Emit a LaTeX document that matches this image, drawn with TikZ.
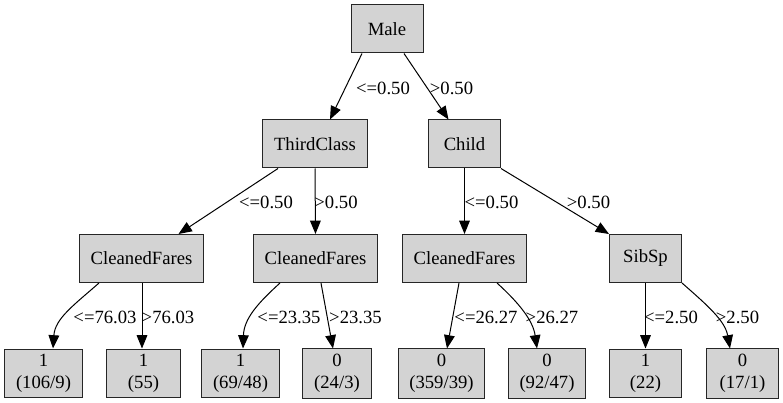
\documentclass[tikz,border=0pt]{standalone}
\usepackage{fontspec}
\setmainfont{Liberation Serif}
\usepackage{xcolor}
\usetikzlibrary{arrows.meta,calc}
\definecolor{boxgray}{HTML}{D3D3D3}

\begin{document}
\begin{tikzpicture}[x=0.75pt, y=-0.75pt,
    box/.style={rectangle, draw=black!85, line width=0.75pt, fill=boxgray,
        minimum width=54pt, minimum height=36pt, inner xsep=8.4pt, inner ysep=4pt,
        align=center, font=\fontsize{14}{16.5}\selectfont},
    cond/.style={inner sep=0pt, font=\fontsize{14}{16.5}\selectfont},
    edge/.style={-{Triangle[length=10pt,width=8pt]}, line width=0.75pt}]
    \useasboundingbox (0,0) rectangle (783,403);

    % tests
    \node[box] (male) at (387, 29) {Male};
    \node[box] (third) at (315, 144) {ThirdClass};
    \node[box] (child) at (464.5, 144) {Child};
    \node[box] (fares1) at (141.5, 258.5) {CleanedFares};
    \node[box] (fares2) at (315.5, 258.5) {CleanedFares};
    \node[box] (fares3) at (464.5, 258.5) {CleanedFares};
    \node[box] (sibsp) at (645.5, 258.5) {SibSp};

    % leaves
    \node[box] (leaf1) at (43.5, 373.5) {1\\(106/9)};
    \node[box, minimum width=56pt] (leaf2) at (143.5, 373.5) {1\\(55)};
    \node[box] (leaf3) at (240.5, 373.5) {1\\(69/48)};
    \node[box, minimum width=51pt] (leaf4) at (337, 373.5) {0\\(24/3)};
    \node[box] (leaf5) at (441.5, 373.5) {0\\(359/39)};
    \node[box] (leaf6) at (547, 373.5) {0\\(92/47)};
    \node[box] (leaf7) at (645.5, 373.5) {1\\(22)};
    \node[box] (leaf8) at (742.5, 373.5) {0\\(17/1)};

    \draw[edge] ($(male.south)+(-25,0)$) -- ($(third.north)+(15,0)$);
    \draw[edge] ($(male.south)+(17,0)$) -- ($(child.north)+(-16,0)$);
    \draw[edge] ($(third.south)+(-37,0)$) -- ($(fares1.north)+(37,0)$);
    \draw[edge] (third.south) -- (fares2.north);
    \draw[edge] (child.south) -- (fares3.north);
    \draw[edge] (child.south east) -- (sibsp.north west);

    \draw[edge] ($(fares1.south)+(-42.5,0)$) .. controls +(-25,22) and +(2,-30) .. ($(leaf1.north)+(9.5,0)$);
    \draw[edge] ($(fares1.south)+(0.5,0)$) -- ($(leaf2.north)+(-1.5,0)$);
    \draw[edge] ($(fares2.south)+(-35.5,0)$) .. controls +(-22,20) and +(1,-30) .. ($(leaf3.north)+(2.5,0)$);
    \draw[edge] ($(fares2.south)+(5.5,0)$) -- ($(leaf4.north)+(-4,0)$);
    \draw[edge] ($(fares3.south)+(-5.5,0)$) -- ($(leaf5.north)+(5.5,0)$);
    \draw[edge] ($(fares3.south)+(32.5,0)$) .. controls +(22,20) and +(-4,-28) .. ($(leaf6.north)+(-10,0)$);
    \draw[edge] (sibsp.south) -- (leaf7.north);
    \draw[edge] (sibsp.south east) .. controls +(25,22) and +(-5,-28) .. ($(leaf8.north)+(-12.5,0)$);

    % split values
    \node[cond] (c1) at (383, 88) {<=0.50};
    \node[cond] (c2) at (451.5, 88) {>0.50};
    \node[cond] (c3) at (266, 202) {<=0.50};
    \node[cond] (c4) at (336, 202) {>0.50};
    \node[cond] (c5) at (491.5, 202) {<=0.50};
    \node[cond] (c6) at (588.5, 202) {>0.50};
    \node[cond] (c7) at (105, 317) {<=76.03};
    \node[cond] (c8) at (168, 317) {>76.03};
    \node[cond] (c9) at (289, 317) {<=23.35};
    \node[cond] (c10) at (355.5, 317) {>23.35};
    \node[cond] (c11) at (486, 317) {<=26.27};
    \node[cond] (c12) at (552, 317) {>26.27};
    \node[cond] (c13) at (671, 317) {<=2.50};
    \node[cond] (c14) at (737.5, 317) {>2.50};
\end{tikzpicture}
\end{document}
